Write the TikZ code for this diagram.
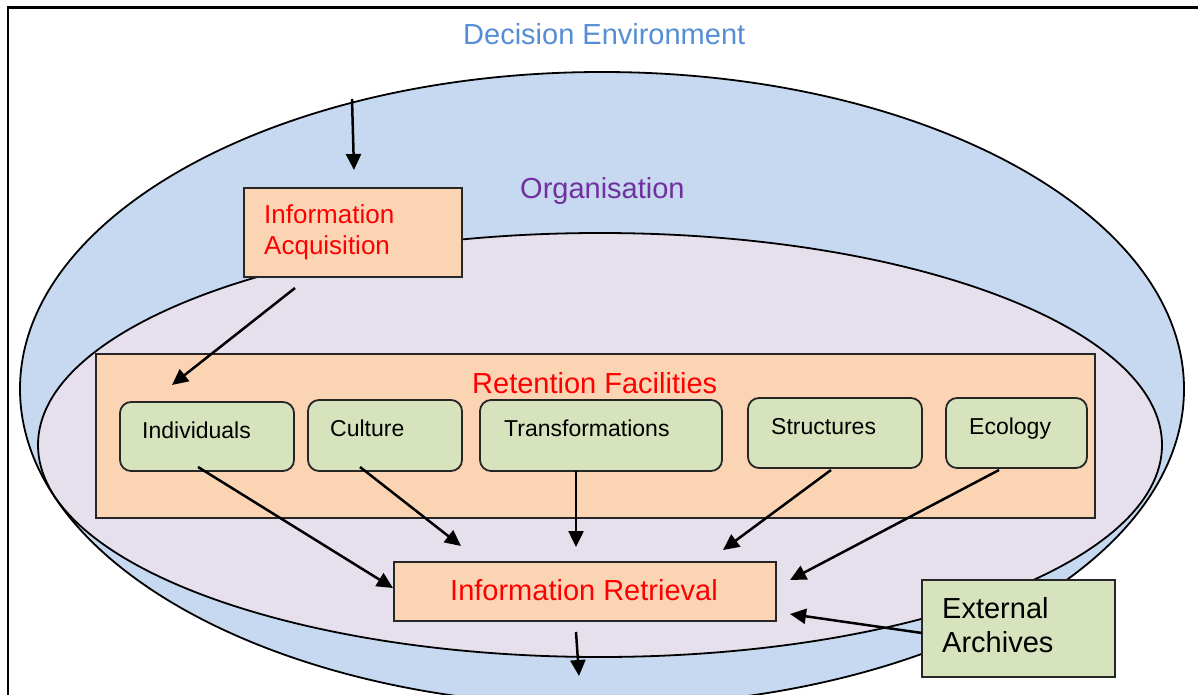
\documentclass[tikz,border=0pt]{standalone}
\usepackage{fontspec}
\setmainfont{Liberation Sans}
\usetikzlibrary{arrows.meta}
\definecolor{envblue}{HTML}{C6D9F0}
\definecolor{orgpurple}{HTML}{E5E0EC}
\definecolor{peach}{HTML}{FBD4B4}
\definecolor{sage}{HTML}{D7E3BC}
\definecolor{titleblue}{HTML}{558ED5}
\definecolor{titlepurple}{HTML}{7030A0}
\begin{document}
\begin{tikzpicture}[x=1pt,y=-1pt,
  ell/.style={draw=black, line width=1.8pt},
  pbox/.style={draw=black!85, line width=2pt, fill=peach, inner sep=0pt},
  gbox/.style={draw=black!85, line width=1.8pt, fill=sage, rounded corners=11pt, inner sep=0pt},
  arr/.style={line width=2.5pt, -{Triangle[length=16pt,width=15pt]}},
  big/.style={anchor=base west, inner sep=0pt, font=\fontsize{29}{34}\selectfont},
  small/.style={anchor=base west, inner sep=0pt, font=\fontsize{23}{27}\selectfont},
]
\useasboundingbox (0,0) rectangle (1198,695);
\clip (0,0) rectangle (1198,695);
\fill[white] (0,0) rectangle (1198,695);
\draw[line width=2.2pt] (7.7,7.5) rectangle (1230,730);

% ellipses
\draw[ell, fill=envblue] (602,389) ellipse [x radius=582pt, y radius=317pt];
\draw[ell, fill=orgpurple] (600,445) ellipse [x radius=562pt, y radius=212pt];

\node[big, text=titleblue] (envt) at (463,45) {Decision Environment};
\node[big, text=titlepurple] (orgt) at (520,198) {Organisation};

% Information Acquisition
\node[pbox, minimum width=218pt, minimum height=89pt] (acq) at (353,232.5) {};
\node[anchor=base west, inner sep=0pt, text width=150pt, align=left, text=red,
      font=\fontsize{26}{31.4}\selectfont] (acqt) at (264,223.5) {Information\\Acquisition};

% Retention Facilities
\node[pbox, minimum width=999pt, minimum height=164pt] (ret) at (595.5,436) {};
\node[big, text=red] (rett) at (472,393) {Retention Facilities};

% green boxes
\node[gbox, minimum width=174pt, minimum height=69pt] (ind) at (207,436.5) {};
\node[small] (indt) at (142,438) {Individuals};
\node[gbox, minimum width=154pt, minimum height=71pt] (cul) at (385,435.5) {};
\node[small] (cult) at (330,436) {Culture};
\node[gbox, minimum width=242pt, minimum height=71pt] (tra) at (601,435.5) {};
\node[small] (trat) at (504,436) {Transformations};
\node[gbox, minimum width=174pt, minimum height=70pt] (str) at (835,433) {};
\node[small] (strt) at (771,434) {Structures};
\node[gbox, minimum width=141pt, minimum height=70pt] (eco) at (1016.5,433) {};
\node[small] (ecot) at (969,434) {Ecology};

% Information Retrieval
\node[pbox, minimum width=382pt, minimum height=59pt] (irt) at (585,591.5) {};
\node[big, text=red] (irtt) at (450,600) {Information Retrieval};

% External Archives
\node[gbox, rounded corners=0pt, minimum width=193pt, minimum height=97pt] (ext) at (1018.5,628.5) {};
\node[anchor=base west, inner sep=0pt, text width=160pt, align=left,
      font=\fontsize{29}{34}\selectfont] (extt) at (942,618) {External\\Archives};

% connector end points
\coordinate (inA) at (352,99);
\coordinate (inB) at (354,170);
\coordinate (acqS) at (295,288);
\coordinate (retIn) at (172,385);
\coordinate (indS) at (198,467);
\coordinate (irW) at (393,588);
\coordinate (culS) at (360,467);
\coordinate (irC) at (461,546);
\coordinate (traS) at (576,471);
\coordinate (irT) at (576,547);
\coordinate (strS) at (831,470);
\coordinate (irS) at (723,550);
\coordinate (ecoS) at (999,470);
\coordinate (irE) at (790,580);
\coordinate (extW) at (922,633);
\coordinate (irX) at (790,614);
\coordinate (irB) at (576,632);
\coordinate (outB) at (579,676);

\draw[arr] (inA) -- (inB);
\draw[arr] (acqS) -- (retIn);
\draw[arr] (indS) -- (irW);
\draw[arr] (culS) -- (irC);
\draw[arr] (traS) -- (irT);
\draw[arr] (strS) -- (irS);
\draw[arr] (ecoS) -- (irE);
\draw[arr] (extW) -- (irX);
\draw[arr] (irB) -- (outB);
\end{tikzpicture}
\end{document}
